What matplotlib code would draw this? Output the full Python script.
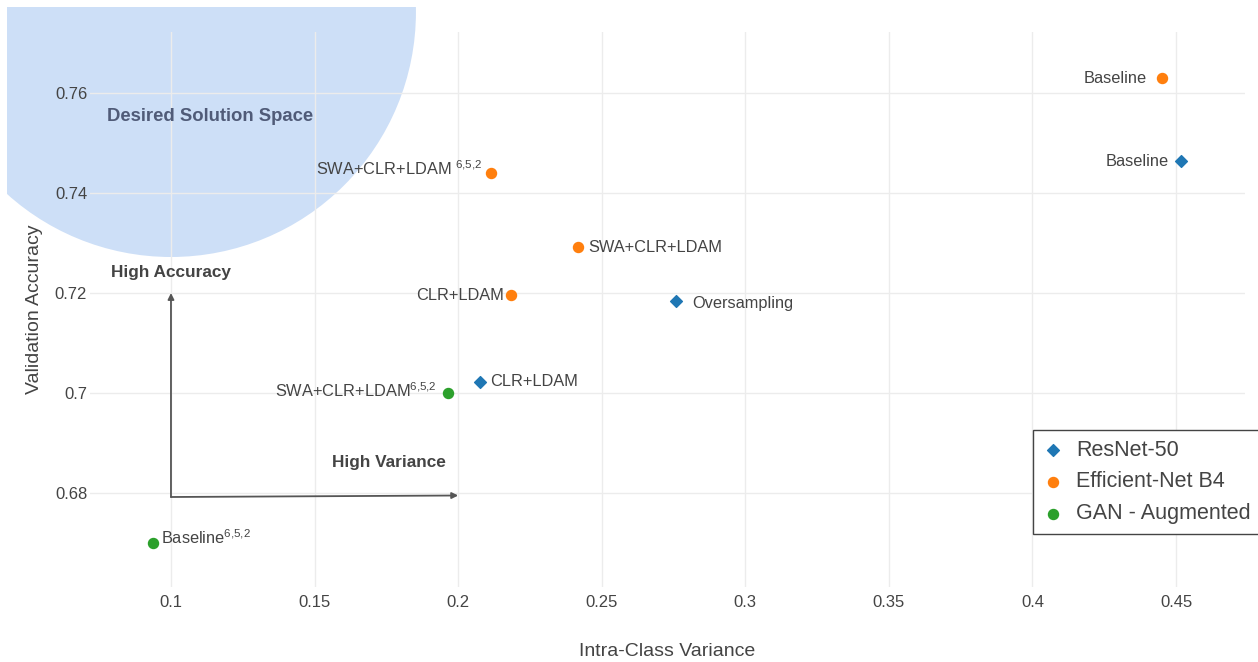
import matplotlib
matplotlib.use("Agg")
import matplotlib.pyplot as plt
from matplotlib.patches import Ellipse
from matplotlib.transforms import Bbox

plt.rcParams['font.family'] = ['Liberation Sans', 'DejaVu Sans']
plt.rcParams['mathtext.fontset'] = 'custom'
plt.rcParams['mathtext.rm'] = 'Liberation Sans'

# ---------------- data ----------------
resnet_x = [0.4517, 0.2759, 0.2076]
resnet_y = [0.7464, 0.7184, 0.7022]
resnet_labels = ["Baseline", "Oversampling", "CLR+LDAM"]

effnet_x = [0.4451, 0.2114, 0.2417, 0.2184]
effnet_y = [0.7630, 0.7440, 0.7292, 0.7196]
effnet_labels = ["Baseline", "SWA+CLR+LDAM $^{\\mathregular{6{,}5{,}2}}$", "SWA+CLR+LDAM", "CLR+LDAM"]

gan_x = [0.1965, 0.0937]
gan_y = [0.7000, 0.6700]
gan_labels = ["SWA+CLR+LDAM$^{\\mathregular{6{,}5{,}2}}$", "Baseline$^{\\mathregular{6{,}5{,}2}}$"]

series_names = ["ResNet-50", "Efficient-Net B4", "GAN - Augmented"]
x_ticks = [0.1, 0.15, 0.2, 0.25, 0.3, 0.35, 0.4, 0.45]
x_ticklabels = ["0.1", "0.15", "0.2", "0.25", "0.3", "0.35", "0.4", "0.45"]
y_ticks = [0.68, 0.70, 0.72, 0.74, 0.76]
y_ticklabels = ["0.68", "0.7", "0.72", "0.74", "0.76"]

# label placement (pixel offsets, alignment)
resnet_place = [(-12, 0, 'right'), (16, -2, 'left'), (10, 0, 'left')]
effnet_place = [(-15, 0, 'right'), (-9, 4, 'right'), (10, 0, 'left'), (-7, 0, 'right')]
gan_place = [(-11, 2, 'right'), (8, 5, 'left')]

W, H = 1258, 662
fig = plt.figure(figsize=(W / 100, H / 100), dpi=100)
L, R, T, B = 90, 1245, 32, 587
ax = fig.add_axes([L / W, 1 - B / H, (R - L) / W, (B - T) / H])
ax.set_xlim(0.0718, 0.474)
ax.set_ylim(0.6612, 0.7722)

for s in ax.spines.values():
    s.set_visible(False)
ax.set_axisbelow(True)
ax.grid(True, color='#ececec', linewidth=1.0)
ax.set_xticks(x_ticks)
ax.set_xticklabels(x_ticklabels)
ax.set_yticks(y_ticks)
ax.set_yticklabels(y_ticklabels)
ax.tick_params(axis='both', length=0, labelsize=12, labelcolor='#444')
ax.tick_params(axis='x', pad=6)
ax.tick_params(axis='y', pad=2)

# desired solution space
ell = Ellipse((0.1, 0.7762), 0.1706, 0.098, facecolor='#cddff7', edgecolor='none', zorder=0)
ax.add_patch(ell)
ell.set_clip_box(Bbox([[7, 0], [W, H - 7]]))

ax.text(0.1136, 0.7554, "Desired Solution Space", fontsize=13.3, fontweight='bold',
        color='#505b78', ha='center', va='center', zorder=3)

# arrows
ax.annotate("", xy=(0.1, 0.7200), xytext=(0.1, 0.6792),
            arrowprops=dict(arrowstyle='-|>', color='#555', lw=1.3, mutation_scale=9,
                            shrinkA=0, shrinkB=0), zorder=3)
ax.annotate("", xy=(0.2, 0.6795), xytext=(0.1, 0.6792),
            arrowprops=dict(arrowstyle='-|>', color='#555', lw=1.3, mutation_scale=9,
                            shrinkA=0, shrinkB=0), zorder=3)
ax.text(0.1, 0.7242, "High Accuracy", fontsize=12.4, fontweight='bold', color='#444',
        ha='center', va='center')
ax.text(0.1759, 0.6862, "High Variance", fontsize=12.4, fontweight='bold', color='#444',
        ha='center', va='center')

# series
colors = ['#1f77b4', '#ff7f0e', '#2ca02c']
ax.scatter(resnet_x, resnet_y, marker='D', s=36, color=colors[0], label=series_names[0], zorder=4)
ax.scatter(effnet_x, effnet_y, marker='o', s=52, color=colors[1], label=series_names[1], zorder=4)
ax.scatter(gan_x, gan_y, marker='o', s=52, color=colors[2], label=series_names[2], zorder=4)

for xs, ys, labs, places in [(resnet_x, resnet_y, resnet_labels, resnet_place),
                             (effnet_x, effnet_y, effnet_labels, effnet_place),
                             (gan_x, gan_y, gan_labels, gan_place)]:
    for x, y, lab, (dx, dy, ha) in zip(xs, ys, labs, places):
        ax.annotate(lab, (x, y), xytext=(dx, dy), textcoords='offset pixels',
                    ha=ha, va='center', fontsize=11.8, color='#444', zorder=5)

ax.set_xlabel("Intra-Class Variance", fontsize=14, color='#444')
ax.set_ylabel("Validation Accuracy", fontsize=14, color='#444')
ax.xaxis.set_label_coords(0.5, -(651 - B) / (B - T))
ax.xaxis.label.set_va('center')
ax.yaxis.set_label_coords((35 - L) / (R - L), 0.5)
ax.yaxis.label.set_va('center')

leg = ax.legend(loc='upper left', bbox_to_anchor=(1033 / W, 1 - 430 / H),
                bbox_transform=fig.transFigure, fontsize=15.5, frameon=True, fancybox=False,
                edgecolor='#444', borderpad=0.45, labelspacing=0.5, handlelength=1.0,
                handletextpad=0.55, borderaxespad=0, framealpha=1)
leg.get_frame().set_linewidth(1.0)
for t in leg.get_texts():
    t.set_color('#444')

fig.savefig("out.png", dpi=100)
